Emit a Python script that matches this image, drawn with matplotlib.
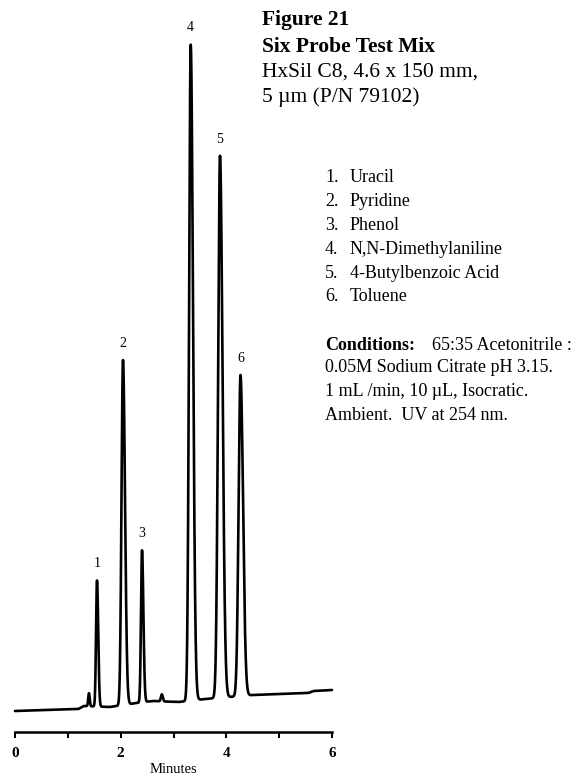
import numpy as np
import matplotlib
matplotlib.use("Agg")
import matplotlib.pyplot as plt

plt.rcParams['font.family'] = ['Liberation Serif', 'DejaVu Serif']

# ---------------- data ----------------
peak_labels = ['1', '2', '3', '4', '5', '6']
compound_names = ['Uracil', 'Pyridine', 'Phenol', 'N,N-Dimethylaniline',
                  '4-Butylbenzoic Acid', 'Toluene']
retention_min = [1.552, 2.044, 2.404, 3.326, 3.880, 4.268]
peak_heights = [126, 345, 152, 656, 542, 321]          # detector response (arb.)
sigma_left = [0.018, 0.028, 0.019, 0.031, 0.036, 0.036]  # minutes
sigma_right = [0.023, 0.038, 0.026, 0.043, 0.048, 0.048]  # minutes (tailing)

minor_rt = [1.40, 2.78]
minor_heights = [13, 7]
minor_sigma = [0.014, 0.018]

baseline_t = [0.0, 1.2, 1.3, 1.8, 2.3, 2.6, 3.1, 3.6, 4.5, 5.55, 5.65, 6.0]
baseline_y = [0, 2, 5, 4, 8, 10, 9, 12, 16, 18, 20, 21]

x_ticks = [0, 1, 2, 3, 4, 5, 6]
x_tick_labels = ['0', '', '2', '', '4', '', '6']

title_lines = [('Figure 21', 'bold'), ('Six Probe Test Mix', 'bold'),
               ('HxSil C8, 4.6 x 150 mm,', 'normal'), ('5 µm (P/N 79102)', 'normal')]
condition_lines = ['0.05M Sodium Citrate pH 3.15.', '1 mL /min, 10 µL, Isocratic.',
                   'Ambient.  UV at 254 nm.']

# ---------------- build trace ----------------
t = np.linspace(0, 6, 6001)
signal = np.interp(t, baseline_t, baseline_y).astype(float)


def bigauss(x, rt, h, sl, sr):
    s = np.where(x < rt, sl, sr)
    return h * np.exp(-0.5 * ((x - rt) / s) ** 2)


for rt, h, sl, sr in zip(retention_min, peak_heights, sigma_left, sigma_right):
    signal += bigauss(t, rt, h, sl, sr)
for rt, h, s in zip(minor_rt, minor_heights, minor_sigma):
    signal += bigauss(t, rt, h, s, s)

# ---------------- figure ----------------
W, H = 587, 778
fig = plt.figure(figsize=(W / 100, H / 100), dpi=100)
ax = fig.add_axes([15 / W, 46 / H, 317 / W, 732 / H])
ax.plot(t, signal, color='black', lw=1.9, solid_joinstyle='round',
        solid_capstyle='round', clip_on=False)
ax.set_xlim(0, 6)
ax.set_ylim(-21, 711)

for s in ['top', 'left', 'right']:
    ax.spines[s].set_visible(False)
ax.spines['bottom'].set_linewidth(1.8)
ax.set_yticks([])
ax.set_xticks(x_ticks)
ax.set_xticklabels(x_tick_labels, fontsize=11, fontweight='bold')
ax.set_xticks([0, 6], minor=True)
ax.tick_params(axis='x', which='major', direction='out', length=4, width=1.5, pad=7)
ax.tick_params(axis='x', which='minor', direction='out', length=6, width=1.5)


def fx(px):
    return px / W


def fy(py):
    return 1 - py / H


fig.text(fx(173), fy(773), 'Minutes', fontsize=10.5, va='baseline', ha='center')

for lab, rt, h in zip(peak_labels, retention_min, peak_heights):
    apex = np.interp(rt, baseline_t, baseline_y) + h
    ax.annotate(lab, xy=(rt, apex), xytext=(0, 12), textcoords='offset points',
                ha='center', va='center', fontsize=10)

# ---------------- text blocks ----------------
title_y = [20, 47, 72, 97]
for (txt, wt), y in zip(title_lines, title_y):
    fig.text(fx(262), fy(y), txt, fontsize=15.5, fontweight=wt, va='center', ha='left')

legend_y = [178, 202, 225, 250, 273, 297]
for lab, name, y in zip(peak_labels, compound_names, legend_y):
    fig.text(fx(325), fy(y), lab + '.', fontsize=13, va='center', ha='left')
    fig.text(fx(350), fy(y), name, fontsize=13, va='center', ha='left')

cond_y = [345, 368, 392, 415]
fig.text(fx(325), fy(cond_y[0]), 'Conditions:', fontsize=13, fontweight='bold',
         va='center', ha='left')
fig.text(fx(432), fy(cond_y[0]), '65:35 Acetonitrile :', fontsize=13,
         va='center', ha='left')
for txt, y in zip(condition_lines, cond_y[1:]):
    fig.text(fx(325), fy(y), txt, fontsize=13, va='center', ha='left')

fig.savefig('out.png', dpi=100)
